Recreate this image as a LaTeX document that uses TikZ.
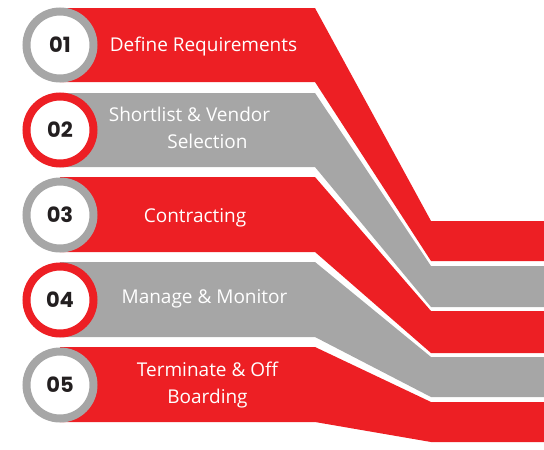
\documentclass[tikz,border=0pt]{standalone}
\usepackage{fontspec}
\setmainfont{Open Sans}
\newfontfamily\numfont{Poppins}
\usepackage{tikz}
\usetikzlibrary{positioning}
\definecolor{bandred}{HTML}{ED1F24}
\definecolor{bandgray}{HTML}{A6A6A6}
\definecolor{numblack}{HTML}{231F20}
\tikzstyle{redband} = [fill=bandred]
\tikzstyle{grayband} = [fill=bandgray]
\tikzstyle{ring-gray} = [
    circle, minimum size=67pt, inner sep=0pt, line width=8pt, draw=bandgray, fill=white,
    text=numblack, font=\numfont\bfseries\fontsize{21}{21}\selectfont]
\tikzstyle{ring-red} = [
    circle, minimum size=67pt, inner sep=0pt, line width=8pt, draw=bandred, fill=white,
    text=numblack, font=\numfont\bfseries\fontsize{21}{21}\selectfont]
\tikzstyle{steptext} = [text=white, align=center, inner sep=0pt, font=\fontsize{19}{27}\selectfont]

\begin{document}
\begin{tikzpicture}[x=1pt,y=-1pt]
\useasboundingbox (0,0) rectangle (544,450);

\fill [redband] (60,8) -- (315,8) -- (431,221) -- (544,221) -- (544,261)
    -- (431,261) -- (315,82) -- (60,82) -- cycle;
\fill [grayband] (60,93) -- (315,93) -- (431,266) -- (544,266) -- (544,307)
    -- (431,307) -- (315,167) -- (60,167) -- cycle;
\fill [redband] (60,177) -- (315,177) -- (431,311) -- (544,311) -- (544,353)
    -- (431,353) -- (315,252) -- (60,252) -- cycle;
\fill [grayband] (60,262) -- (315,262) -- (431,357) -- (544,357) -- (544,397)
    -- (431,397) -- (315,337) -- (60,337) -- cycle;
\fill [redband] (60,347) -- (315,347) -- (431,402) -- (544,402) -- (544,442)
    -- (431,442) -- (315,422) -- (60,422) -- cycle;

\node (num1) [ring-gray] at (60,45) {01};
\node (num2) [ring-red, below=10pt of num1] {02};
\node (num3) [ring-gray, below=10pt of num2] {03};
\node (num4) [ring-red, below=10pt of num3] {04};
\node (num5) [ring-gray, below=10pt of num4] {05};

\node (define) [steptext] at (203.5,47) {Define Requirements};
\node (shortlist) [steptext] at (189.5,128) {
    Shortlist \& Vendor \\
    \hspace*{36pt}Selection
};
\node (contracting) [steptext] at (195,217.5) {Contracting};
\node (manage) [steptext] at (204.5,299) {Manage \& Monitor};
\node (terminate) [steptext] at (207.5,385) {
    Terminate \& Off \\
    Boarding
};
\end{tikzpicture}
\end{document}
